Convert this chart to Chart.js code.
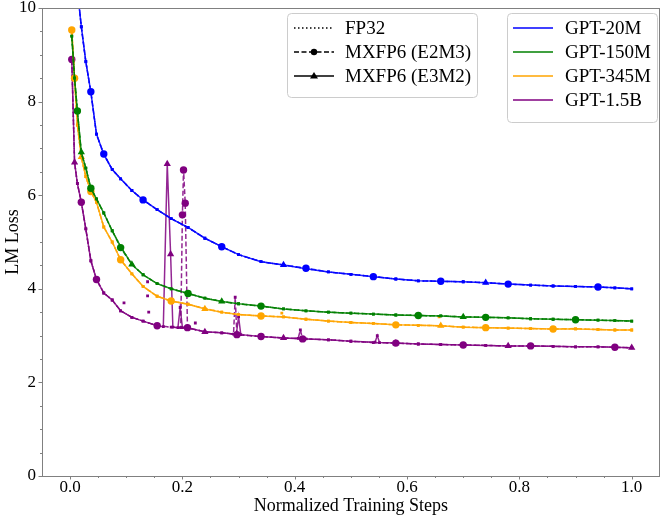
<!DOCTYPE html>
<html><head><meta charset="utf-8">
<script src="https://cdn.jsdelivr.net/npm/chart.js@4.4.1/dist/chart.umd.min.js"></script>
<style>html,body{margin:0;padding:0;background:#fff;}#wrap{width:664px;height:517px;}</style>
</head><body><div id="wrap"><canvas id="c" width="664" height="517"></canvas></div>
<script>
const SERIF = "'Liberation Serif', 'Times New Roman', serif";

// ---- data ----
const steps = [0.003,0.008,0.013,0.02,0.028,0.037,0.047,0.06,0.075,0.09,0.11,0.13,0.155,0.18,0.21,0.24,0.27,0.30,0.34,0.38,0.42,0.46,0.50,0.54,0.58,0.62,0.66,0.70,0.74,0.78,0.82,0.86,0.90,0.94,0.97,1.0];

const gpt20mFP32 = [12.0,11.2,10.4,9.6,8.85,8.2,7.3,6.87,6.55,6.35,6.1,5.9,5.69,5.5,5.31,5.08,4.9,4.73,4.58,4.51,4.43,4.36,4.31,4.26,4.21,4.17,4.16,4.15,4.13,4.10,4.08,4.06,4.05,4.04,4.02,4.00];
const gpt20mE2M3 = [12.0,11.2,10.4,9.6,8.85,8.21,7.3,6.88,6.55,6.35,6.1,5.9,5.69,5.5,5.31,5.08,4.9,4.73,4.58,4.51,4.44,4.36,4.31,4.26,4.21,4.17,4.16,4.15,4.13,4.10,4.08,4.06,4.05,4.04,4.02,4.00];
const gpt20mE3M2 = [12.0,11.2,10.4,9.6,8.86,8.2,7.31,6.87,6.55,6.35,6.1,5.9,5.69,5.5,5.31,5.08,4.9,4.73,4.58,4.51,4.43,4.36,4.31,4.26,4.21,4.17,4.16,4.15,4.13,4.10,4.08,4.06,4.05,4.04,4.02,4.00];

const gpt150mFP32 = [9.4,8.5,7.8,6.9,6.58,6.15,5.92,5.62,5.24,4.9,4.52,4.30,4.11,4.0,3.9,3.80,3.73,3.68,3.63,3.57,3.53,3.50,3.48,3.46,3.44,3.43,3.42,3.40,3.39,3.38,3.36,3.35,3.34,3.33,3.32,3.31];
const gpt150mE2M3 = [9.4,8.5,7.8,6.9,6.58,6.15,5.92,5.62,5.24,4.88,4.52,4.30,4.11,4.0,3.9,3.80,3.73,3.68,3.63,3.57,3.53,3.50,3.48,3.46,3.44,3.43,3.42,3.40,3.39,3.38,3.36,3.35,3.34,3.33,3.32,3.31];
const gpt150mE3M2 = [9.4,8.5,7.8,6.92,6.58,6.15,5.92,5.62,5.24,4.9,4.52,4.30,4.11,4.0,3.9,3.80,3.73,3.68,3.63,3.57,3.53,3.50,3.48,3.46,3.44,3.43,3.42,3.40,3.39,3.38,3.36,3.35,3.34,3.33,3.32,3.31];

const gpt345mFP32 = [9.53,8.5,7.5,6.8,6.4,6.08,5.85,5.32,5.0,4.62,4.32,4.05,3.84,3.74,3.67,3.58,3.50,3.45,3.42,3.40,3.35,3.31,3.28,3.26,3.23,3.22,3.21,3.18,3.17,3.16,3.15,3.14,3.14,3.13,3.12,3.12];
const gpt345mE2M3 = [9.53,8.5,7.5,6.8,6.4,6.08,5.85,5.32,5.0,4.62,4.32,4.05,3.84,3.74,3.67,3.58,3.50,3.45,3.42,3.40,3.35,3.31,3.28,3.26,3.23,3.22,3.21,3.18,3.17,3.16,3.15,3.14,3.15,3.13,3.12,3.12];
const gpt345mE3M2 = [9.53,8.5,7.5,6.82,6.4,6.08,5.85,5.32,5.0,4.62,4.32,4.05,3.84,3.74,3.67,3.57,3.50,3.45,3.42,3.40,3.35,3.31,3.28,3.26,3.23,3.22,3.21,3.18,3.17,3.16,3.15,3.14,3.14,3.13,3.12,3.12];

const gpt15bFP32 = [8.9,6.7,6.25,5.85,5.28,4.6,4.2,3.91,3.76,3.53,3.39,3.31,3.21,3.18,3.16,3.08,3.06,3.02,2.98,2.95,2.93,2.91,2.88,2.85,2.84,2.82,2.81,2.80,2.79,2.78,2.78,2.77,2.76,2.76,2.75,2.74];
const gpt15bE2M3Steps = [0.003,0.008,0.013,0.02,0.028,0.037,0.047,0.06,0.075,0.09,0.11,0.13,0.155,0.18,0.197,0.2,0.202,0.205,0.209,0.24,0.27,0.291,0.294,0.297,0.34,0.38,0.406,0.41,0.414,0.46,0.50,0.54,0.58,0.62,0.66,0.70,0.74,0.78,0.82,0.86,0.90,0.94,0.97,1.0];
const gpt15bE2M3 = [8.9,6.7,6.25,5.85,5.28,4.6,4.2,3.91,3.76,3.53,3.39,3.31,3.21,3.18,3.17,5.58,6.54,5.83,3.17,3.08,3.06,3.03,3.82,3.02,2.98,2.95,2.94,3.12,2.93,2.91,2.88,2.85,2.84,2.82,2.81,2.80,2.79,2.78,2.78,2.77,2.76,2.76,2.75,2.74];
const gpt15bE3M2Steps = [0.003,0.008,0.013,0.02,0.028,0.037,0.047,0.06,0.075,0.09,0.11,0.13,0.155,0.166,0.173,0.179,0.183,0.192,0.196,0.2,0.21,0.24,0.27,0.296,0.30,0.304,0.34,0.38,0.42,0.46,0.50,0.543,0.547,0.551,0.58,0.62,0.66,0.70,0.74,0.78,0.82,0.86,0.90,0.94,0.97,1.0];
const gpt15bE3M2 = [8.9,6.7,6.25,5.85,5.28,4.6,4.2,3.91,3.76,3.53,3.39,3.31,3.21,3.19,6.67,4.74,3.18,3.17,3.6,3.17,3.16,3.08,3.06,3.03,3.40,3.02,2.98,2.95,2.93,2.91,2.88,2.86,3.0,2.85,2.84,2.82,2.81,2.80,2.79,2.78,2.78,2.77,2.76,2.76,2.75,2.74];

const gpt15bStrayX = [0.096,0.138,0.138,0.140,0.223];
const gpt15bStrayY = [3.70,4.15,3.85,3.50,3.27];
const gpt345mStrayX = [0.377,0.657];
const gpt345mStrayY = [3.48,3.40];

const xTickValues = [0,0.2,0.4,0.6,0.8,1.0];
const xTickLabels = ['0.0','0.2','0.4','0.6','0.8','1.0'];
const yTickValues = [0,2,4,6,8,10];
const yTickLabels = ['0','2','4','6','8','10'];
const formatNames = ['FP32','MXFP6 (E2M3)','MXFP6 (E3M2)'];
const modelNames = ['GPT-20M','GPT-150M','GPT-345M','GPT-1.5B'];

// ---- style (not data) ----
const modelColors = ['#0000ff','#008000','#ffa500','#800080'];
const bigMarkers = {
  'GPT-20M':  {c:[0.037,0.06,0.13,0.27,0.42,0.54,0.66,0.78,0.94], t:[0.38,0.74]},
  'GPT-150M': {c:[0.013,0.037,0.09,0.21,0.34,0.62,0.74,0.90], t:[0.02,0.11,0.27,0.70]},
  'GPT-345M': {c:[0.003,0.008,0.037,0.09,0.18,0.34,0.58,0.74,0.86], t:[0.02,0.24,0.66]},
  'GPT-1.5B': {c:[0.003,0.02,0.047,0.155,0.2,0.202,0.205,0.209,0.297,0.34,0.414,0.58,0.70,0.82,0.97], t:[0.008,0.173,0.179,0.24,0.38,0.58,0.78,1.0]}
};

function zip(xs, ys){ return xs.map((x,i)=>({x:x, y:ys[i]})); }
function rgba(hex,a){ const n=parseInt(hex.slice(1),16); return `rgba(${n>>16&255},${n>>8&255},${n&255},${a})`; }

function makeSet(model, fmt, xs, ys, color){
  const ds = {label: model+' '+fmt, data: zip(xs, ys), borderColor: rgba(color,0.85), backgroundColor: color,
    borderWidth: 1.5, fill:false, tension:0, pointBorderWidth:0, pointHoverRadius:0};
  const big = bigMarkers[model];
  if (fmt === 'FP32') { ds.borderDash=[1.5,2.5]; ds.pointRadius=0; }
  else {
    const list = fmt==='MXFP6 (E2M3)' ? big.c : big.t;
    const shape = fmt==='MXFP6 (E2M3)' ? 'circle' : 'triangle';
    if (fmt==='MXFP6 (E2M3)') ds.borderDash=[5,2.5];
    ds.pointStyle = c => (c.raw && list.includes(c.raw.x)) ? shape : 'rect';
    ds.pointRadius = c => (c.raw && list.includes(c.raw.x)) ? (shape==='circle'?3.7:4.2) : 2;
    ds.pointBackgroundColor = color;
  }
  return ds;
}

const datasets = [
  makeSet('GPT-20M','FP32',steps,gpt20mFP32,modelColors[0]),
  makeSet('GPT-20M','MXFP6 (E2M3)',steps,gpt20mE2M3,modelColors[0]),
  makeSet('GPT-20M','MXFP6 (E3M2)',steps,gpt20mE3M2,modelColors[0]),
  makeSet('GPT-150M','FP32',steps,gpt150mFP32,modelColors[1]),
  makeSet('GPT-150M','MXFP6 (E2M3)',steps,gpt150mE2M3,modelColors[1]),
  makeSet('GPT-150M','MXFP6 (E3M2)',steps,gpt150mE3M2,modelColors[1]),
  makeSet('GPT-345M','FP32',steps,gpt345mFP32,modelColors[2]),
  makeSet('GPT-345M','MXFP6 (E2M3)',steps,gpt345mE2M3,modelColors[2]),
  makeSet('GPT-345M','MXFP6 (E3M2)',steps,gpt345mE3M2,modelColors[2]),
  makeSet('GPT-1.5B','FP32',steps,gpt15bFP32,modelColors[3]),
  makeSet('GPT-1.5B','MXFP6 (E2M3)',gpt15bE2M3Steps,gpt15bE2M3,modelColors[3]),
  makeSet('GPT-1.5B','MXFP6 (E3M2)',gpt15bE3M2Steps,gpt15bE3M2,modelColors[3]),
  {label:'stray345', data: zip(gpt345mStrayX,gpt345mStrayY), showLine:false, pointStyle:'rect', pointRadius:2, pointBorderWidth:0, backgroundColor:modelColors[2], pointBackgroundColor:modelColors[2]},
  {label:'stray15b', data: zip(gpt15bStrayX,gpt15bStrayY), showLine:false, pointStyle:'rect', pointRadius:2, pointBorderWidth:0, backgroundColor:modelColors[3], pointBackgroundColor:modelColors[3]}
];

const AXIS = '#808080';
const framePlugin = {
  id:'frame',
  afterDatasetsDraw(chart){
    const {ctx, chartArea:a, scales:{x,y}} = chart;
    ctx.save();
    ctx.strokeStyle = AXIS; ctx.lineWidth = 1;
    ctx.strokeRect(Math.round(a.left)+0.5, Math.round(a.top)+0.5, Math.round(a.right-a.left)-1, Math.round(a.bottom-a.top));
    ctx.beginPath();
    for (let v=0; v<=1.0001; v+=0.05){
      const px = Math.round(x.getPixelForValue(v))+0.5;
      const major = Math.abs(v/0.2 - Math.round(v/0.2))<1e-6;
      ctx.moveTo(px, a.bottom); ctx.lineTo(px, a.bottom + (major?3.5:2));
    }
    for (let v=0; v<=10.0001; v+=0.5){
      const py = Math.round(y.getPixelForValue(v))+0.5;
      const major = Math.abs(v/2 - Math.round(v/2))<1e-6;
      ctx.moveTo(a.left, py); ctx.lineTo(a.left - (major?3.5:2), py);
    }
    ctx.stroke();
    ctx.restore();
  },
  afterDraw(chart){
    const ctx = chart.ctx;
    ctx.save();
    function box(x,y,w,h){
      const r=4;
      ctx.beginPath();
      ctx.moveTo(x+r,y); ctx.lineTo(x+w-r,y); ctx.quadraticCurveTo(x+w,y,x+w,y+r);
      ctx.lineTo(x+w,y+h-r); ctx.quadraticCurveTo(x+w,y+h,x+w-r,y+h);
      ctx.lineTo(x+r,y+h); ctx.quadraticCurveTo(x,y+h,x,y+h-r);
      ctx.lineTo(x,y+r); ctx.quadraticCurveTo(x,y,x+r,y); ctx.closePath();
      ctx.fillStyle='rgba(255,255,255,0.85)'; ctx.fill();
      ctx.strokeStyle='#cccccc'; ctx.lineWidth=1; ctx.stroke();
    }
    ctx.font = '19px '+SERIF; ctx.textBaseline='middle'; ctx.textAlign='left';
    // legend 1: formats
    box(287.5,13.5,190,84);
    const rows1=[28,52,76];
    formatNames.forEach((name,i)=>{
      const yy=rows1[i];
      ctx.strokeStyle='#000'; ctx.lineWidth=1.5;
      ctx.setLineDash(i===0?[1.5,2.5]:(i===1?[5,2.5]:[]));
      ctx.beginPath(); ctx.moveTo(294,yy); ctx.lineTo(334,yy); ctx.stroke();
      ctx.setLineDash([]);
      ctx.fillStyle='#000';
      if(i===1){ ctx.beginPath(); ctx.arc(314,yy,3.2,0,Math.PI*2); ctx.fill(); }
      if(i===2){ ctx.beginPath(); ctx.moveTo(314,yy-4); ctx.lineTo(318,yy+2.5); ctx.lineTo(310,yy+2.5); ctx.closePath(); ctx.fill(); }
      ctx.fillText(name,345,yy+1);
    });
    // legend 2: models
    box(507.5,13.5,150,109);
    const rows2=[28,52,76,100];
    modelNames.forEach((name,i)=>{
      const yy=rows2[i];
      ctx.strokeStyle=modelColors[i]; ctx.lineWidth=1.5;
      ctx.beginPath(); ctx.moveTo(513,yy); ctx.lineTo(553,yy); ctx.stroke();
      ctx.fillStyle='#000';
      ctx.fillText(name,565,yy+1);
    });
    ctx.restore();
  }
};

new Chart(document.getElementById('c'), {
  type:'line',
  data:{datasets},
  options:{
    responsive:false, animation:false, events:[],
    layout:{padding:{top:8,right:2,left:0,bottom:0}},
    plugins:{legend:{display:false}, tooltip:{enabled:false}},
    scales:{
      x:{type:'linear', min:-0.05, max:1.05,
        afterBuildTicks:s=>{ s.ticks = xTickValues.map(v=>({value:v})); },
        afterFit:s=>{ s.height = 41; s.paddingLeft = 0; s.paddingRight = 0; },
        grid:{display:false, drawTicks:false}, border:{display:false},
        ticks:{padding:3, color:'#000', font:{family:SERIF,size:17, lineHeight:1.0}, maxRotation:0, autoSkip:false,
          callback:(v,i)=>xTickLabels[i]},
        title:{display:true, text:'Normalized Training Steps', color:'#000', font:{family:SERIF,size:18, lineHeight:1.0}, padding:{top:0,bottom:2}}
      },
      y:{type:'linear', min:0, max:10,
        afterBuildTicks:s=>{ s.ticks = yTickValues.map(v=>({value:v})); },
        afterFit:s=>{ s.width = 42; s.paddingTop = 0; s.paddingBottom = 0; },
        grid:{display:false, drawTicks:false}, border:{display:false},
        ticks:{padding:6, color:'#000', font:{family:SERIF,size:17}, autoSkip:false,
          callback:(v,i)=>yTickLabels[i]},
        title:{display:true, text:'LM Loss', color:'#000', font:{family:SERIF,size:18}, padding:{top:2,bottom:0}}
      }
    }
  },
  plugins:[framePlugin]
});
</script></body></html>
